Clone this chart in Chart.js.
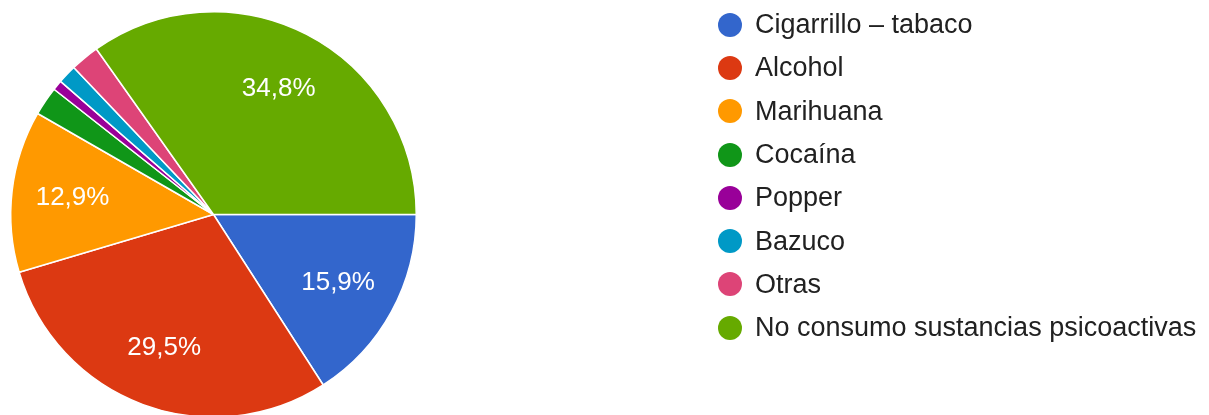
<!DOCTYPE html>
<html>
<head>
<meta charset="utf-8">
<script src="https://cdn.jsdelivr.net/npm/chart.js@4"></script>
<style>
  html, body { margin: 0; padding: 0; background: #fff; overflow: hidden; }
  #wrap { position: relative; width: 1209px; height: 415px; overflow: hidden; }
  #c { position: absolute; left: 0; top: 0; }
  #legend { position: absolute; left: 718px; top: 3px; font-family: "Liberation Sans", Arial, sans-serif; font-size: 27px; color: #212121; }
  .item { display: flex; align-items: center; height: 43.3px; white-space: nowrap; }
  .dot { width: 24px; height: 24px; border-radius: 50%; margin-right: 13px; flex: none; }
</style>
</head>
<body>
<div id="wrap">
  <canvas id="c" width="1209" height="418" style="width:1209px;height:418px"></canvas>
  <div id="legend"></div>
</div>
<script>
const categories = ["Cigarrillo – tabaco", "Alcohol", "Marihuana", "Cocaína", "Popper", "Bazuco", "Otras", "No consumo sustancias psicoactivas"];
const percentages = [15.9, 29.5, 12.9, 2.3, 0.8, 1.5, 2.3, 34.8];
const colors = ["#3366cc", "#dc3912", "#ff9900", "#109618", "#990099", "#0099c6", "#dd4477", "#66aa00"];

const legend = document.getElementById('legend');
categories.forEach((name, i) => {
  const it = document.createElement('div');
  it.className = 'item';
  const d = document.createElement('span');
  d.className = 'dot';
  d.style.background = colors[i];
  const t = document.createElement('span');
  t.textContent = name;
  it.appendChild(d); it.appendChild(t);
  legend.appendChild(it);
});

const sliceLabels = {
  id: 'sliceLabels',
  afterDatasetsDraw(chart) {
    const ctx = chart.ctx;
    const meta = chart.getDatasetMeta(0);
    ctx.save();
    ctx.font = '26px "Liberation Sans", Arial, sans-serif';
    ctx.fillStyle = '#ffffff';
    ctx.textAlign = 'center';
    ctx.textBaseline = 'middle';
    meta.data.forEach((arc, i) => {
      const v = percentages[i];
      if (v < 5) return;
      const p = arc.getProps(['x', 'y', 'startAngle', 'endAngle', 'outerRadius'], true);
      const mid = (p.startAngle + p.endAngle) / 2;
      const r = p.outerRadius * 0.7;
      ctx.fillText(v.toFixed(1).replace('.', ',') + '%', p.x + Math.cos(mid) * r, p.y + Math.sin(mid) * r);
    });
    ctx.restore();
  }
};

new Chart(document.getElementById('c'), {
  type: 'pie',
  data: {
    labels: categories,
    datasets: [{
      data: percentages,
      backgroundColor: colors,
      borderColor: '#ffffff',
      borderWidth: 1.5
    }]
  },
  options: {
    responsive: false,
    animation: false,
    rotation: 90,
    layout: { padding: { left: 10, right: 792, top: 11, bottom: 0 } },
    plugins: {
      legend: { display: false },
      tooltip: { enabled: false }
    }
  },
  plugins: [sliceLabels]
});
</script>
</body>
</html>
